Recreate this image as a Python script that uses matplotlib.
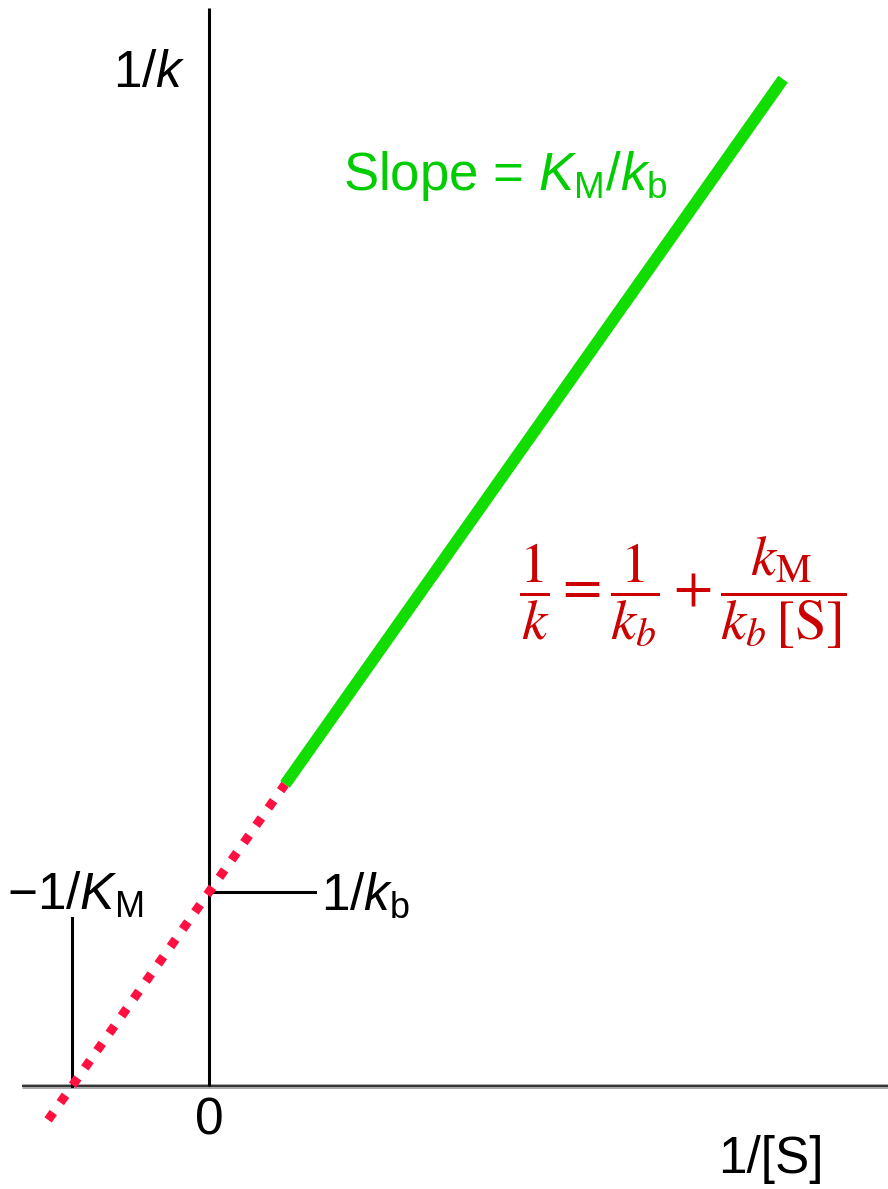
import matplotlib.pyplot as plt

plt.rcParams['mathtext.fontset'] = 'custom'
plt.rcParams['mathtext.rm'] = 'Liberation Sans'
plt.rcParams['mathtext.it'] = 'Liberation Sans:italic'
plt.rcParams['font.family'] = ['Liberation Sans', 'DejaVu Sans']

# Lineweaver-Burk plot: x = 1/[S], y = 1/k  (units: KM = 1, kb = 1)
inv_KM = -1.0
inv_kb = 1.0

# extrapolated part (red dotted)
x_extrap = [-1.175, 0.555]
y_extrap = [-0.175, 1.555]

# measured range (green)
x_fit = [0.555, 4.19]
y_fit = [1.555, 5.19]

fig = plt.figure(figsize=(8.88, 11.89), dpi=100)
ax = fig.add_axes([0, 0, 1, 1])
ax.set_xlim(-1.526, 4.956)
ax.set_ylim(-0.531, 5.598)
ax.axis('off')

# axes
ax.plot([-1.365, 4.956], [0, 0], color='#a8a8a8', lw=3.6, solid_capstyle='butt', zorder=1)
ax.plot([-1.365, 4.956], [0, 0], color='#333333', lw=1.4, solid_capstyle='butt', zorder=1)
ax.plot([0, 0], [0, 5.557], color='black', lw=2.2, solid_capstyle='butt', zorder=1)

# intercept markers
ax.plot([inv_KM, inv_KM], [0, 0.866], color='black', lw=2.2, zorder=1)
ax.plot([0, 0.774], [inv_kb, inv_kb], color='black', lw=2.2, zorder=1)

ax.plot(x_fit, y_fit, color='#11dd00', lw=8.5, solid_capstyle='butt', zorder=2)
ax.plot(x_extrap, y_extrap, color='#ff1040', lw=6.5, linestyle=(0, (1, 1.35)),
        dash_capstyle='butt', zorder=3)

fs = 37
ax.text(-0.17, 5.22, r'1/$k$', fontsize=fs, ha='right', va='center')
ax.text(0.0, -0.18, '0', fontsize=fs, ha='center', va='center')
ax.text(4.1, -0.38, '1/[S]', fontsize=fs, ha='center', va='center')
ax.text(-0.98, 0.98, r'$-$1/$K_{\mathrm{M}}$', fontsize=fs, ha='center', va='center')
ax.text(0.82, 0.98, r'1/$k_{\mathrm{b}}$', fontsize=fs, ha='left', va='center')
ax.text(0.98, 4.69, r'Slope = $K_{\mathrm{M}}$/$k_{\mathrm{b}}$', fontsize=fs + 1,
        color='#00cc00', ha='left', va='center')

ax.text(2.26, 2.54, r'$\dfrac{1}{k}=\dfrac{1}{k_b}+\dfrac{k_{\mathrm{M}}}{k_b\,\left[\mathrm{S}\right]}$',
        fontsize=41, color='#cc0000', ha='left', va='center', math_fontfamily='stix')

fig.savefig('out.png', dpi=100)
